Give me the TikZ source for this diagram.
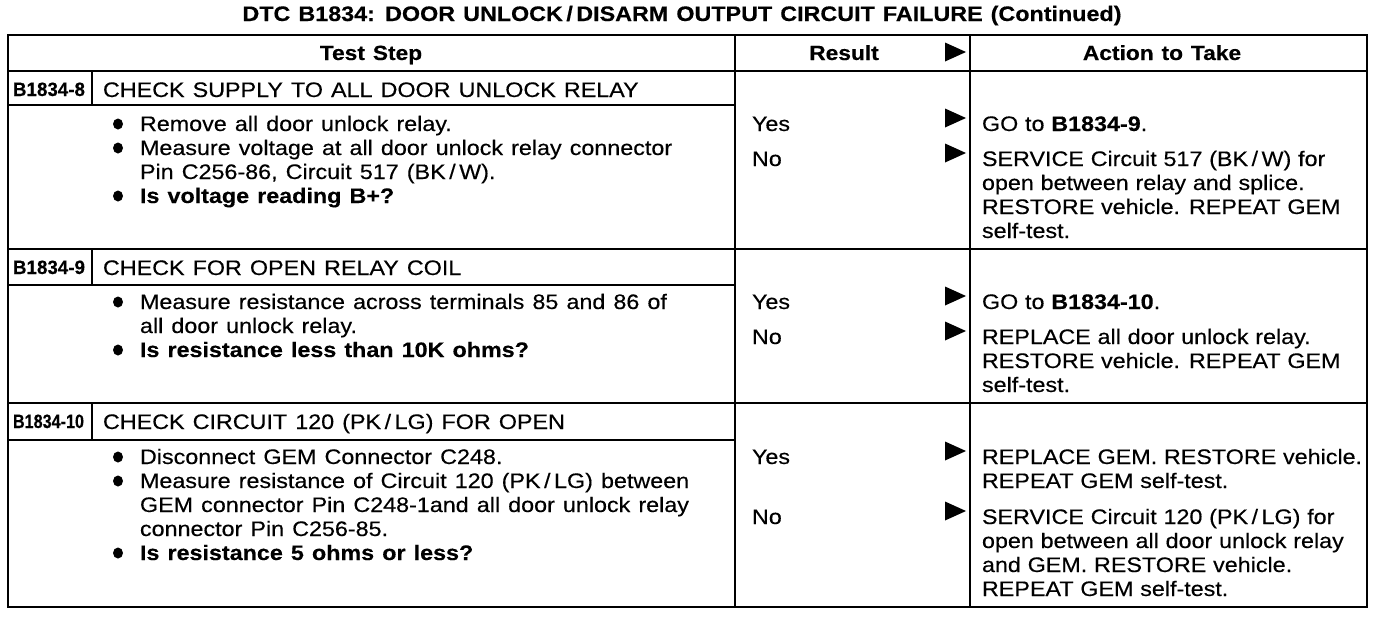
\documentclass[tikz,border=0pt]{standalone}
\usepackage{graphicx}
\usepackage{fontspec}
\setmainfont{Liberation Sans}[FakeStretch=1.11, WordSpace=1.25, FakeBold=0.35]
\newfontfamily\actfam{Liberation Sans}[FakeStretch=1.11, WordSpace=1.05, FakeBold=0.35]
\newcommand\txf{\fontsize{21}{24}\selectfont}
\newcommand\txa{\actfam\fontsize{21}{24}\selectfont}
\newcommand\ttlf{\fontsize{21}{24}\selectfont\bfseries}
\newcommand\idlab[2]{\resizebox{#1pt}{13.5pt}{\bfseries #2}}
\tikzset{
  tl/.style={anchor=base west, inner sep=0pt, outer sep=0pt, font=\txf},
  ta/.style={tl, font=\txa},
  tb/.style={tl, font=\txf\bfseries},
  tlc/.style={anchor=base, inner sep=0pt, outer sep=0pt, font=\fontsize{20.5}{24}\selectfont\bfseries},
  idl/.style={anchor=base west, inner sep=0pt, outer sep=0pt},
  bul/.style={fill=black, draw=none},
  tri/.style={fill=black, draw=none},
  thinl/.style={line width=1.6pt},
  thickl/.style={line width=2.2pt},
}
\newcommand\rtri[1]{\fill[tri] (945,#1-9.5) -- (966,#1) -- (945,#1+9.5) -- cycle;}
\newcommand\bull[1]{\fill[bul] (118,#1) ellipse (5 and 5.5);}
\begin{document}
\begin{tikzpicture}[x=1pt,y=-1pt]
\useasboundingbox (0,0) rectangle (1392,616);
% title
\node[anchor=base, inner sep=0pt, font=\ttlf] (title) at (682,21) {DTC B1834: DOOR UNLOCK\,/\,DISARM OUTPUT CIRCUIT FAILURE (Continued)};
% table frame
\draw[thickl] (8,35) rectangle (1367,607);
\draw[thinl] (735,35) -- (735,607);
\draw[thinl] (970,35) -- (970,607);
\draw[thinl] (8,71) -- (1367,71);
\draw[thickl] (8,249) -- (1367,249);
\draw[thickl] (8,403) -- (1367,403);
% title rows (test-step column only)
\draw[thinl] (8,105) -- (735,105);
\draw[thinl] (92,71) -- (92,105);
\draw[thinl] (8,285) -- (735,285);
\draw[thinl] (92,249) -- (92,285);
\draw[thinl] (8,440) -- (735,440);
\draw[thinl] (92,403) -- (92,440);
% header
\node[tlc] (hts) at (371,60) {Test Step};
\node[tlc] (hres) at (844,60) {Result};
\node[tlc] (hact) at (1162,60) {Action to Take};
\rtri{52}
% ---------- row 1
\node[idl] (id1) at (13,96) {\idlab{72}{B1834-8}};
\node[tl] (t1) at (103,97) {CHECK SUPPLY TO ALL DOOR UNLOCK RELAY};
\bull{124}\bull{148}\bull{196}
\node[tl] (s1a) at (140,131) {Remove all door unlock relay.};
\node[tl] (s1b) at (140,155) {Measure voltage at all door unlock relay connector};
\node[tl] (s1c) at (140,179) {Pin C256-86, Circuit 517 (BK\,/\,W).};
\node[tb] (s1d) at (140,203) {Is voltage reading B+?};
\node[ta] (y1) at (752,131) {Yes};
\node[ta] (n1) at (752,166) {No};
\rtri{118}\rtri{153}
\node[ta] (a1a) at (982,131) {GO to \textbf{B1834-9}.};
\node[ta] (a1b) at (982,166) {SERVICE Circuit 517 (BK\,/\,W) for};
\node[ta] (a1c) at (982,190) {open between relay and splice.};
\node[ta] (a1d) at (982,214) {RESTORE vehicle. REPEAT GEM};
\node[ta] (a1e) at (982,238) {self-test.};
% ---------- row 2
\node[idl] (id2) at (13,274) {\idlab{72}{B1834-9}};
\node[tl] (t2) at (103,275) {CHECK FOR OPEN RELAY COIL};
\bull{302}\bull{350}
\node[tl] (s2a) at (140,309) {Measure resistance across terminals 85 and 86 of};
\node[tl] (s2b) at (140,333) {all door unlock relay.};
\node[tb] (s2c) at (140,357) {Is resistance less than 10K ohms?};
\node[ta] (y2) at (752,309) {Yes};
\node[ta] (n2) at (752,344) {No};
\rtri{296}\rtri{331}
\node[ta] (a2a) at (982,309) {GO to \textbf{B1834-10}.};
\node[ta] (a2b) at (982,344) {REPLACE all door unlock relay.};
\node[ta] (a2c) at (982,368) {RESTORE vehicle. REPEAT GEM};
\node[ta] (a2d) at (982,392) {self-test.};
% ---------- row 3
\node[idl] (id3) at (13,428) {\idlab{71}{B1834-10}};
\node[tl] (t3) at (103,429) {CHECK CIRCUIT 120 (PK\,/\,LG) FOR OPEN};
\bull{457}\bull{481}\bull{553}
\node[tl] (s3a) at (140,464) {Disconnect GEM Connector C248.};
\node[tl] (s3b) at (140,488) {Measure resistance of Circuit 120 (PK\,/\,LG) between};
\node[tl] (s3c) at (140,512) {GEM connector Pin C248-1and all door unlock relay};
\node[tl] (s3d) at (140,536) {connector Pin C256-85.};
\node[tb] (s3e) at (140,560) {Is resistance 5 ohms or less?};
\node[ta] (y3) at (752,464) {Yes};
\node[ta] (n3) at (752,524) {No};
\rtri{451}\rtri{511}
\node[ta] (a3a) at (982,464) {REPLACE GEM. RESTORE vehicle.};
\node[ta] (a3b) at (982,488) {REPEAT GEM self-test.};
\node[ta] (a3c) at (982,524) {SERVICE Circuit 120 (PK\,/\,LG) for};
\node[ta] (a3d) at (982,548) {open between all door unlock relay};
\node[ta] (a3e) at (982,572) {and GEM. RESTORE vehicle.};
\node[ta] (a3f) at (982,596) {REPEAT GEM self-test.};
\end{tikzpicture}
\end{document}
